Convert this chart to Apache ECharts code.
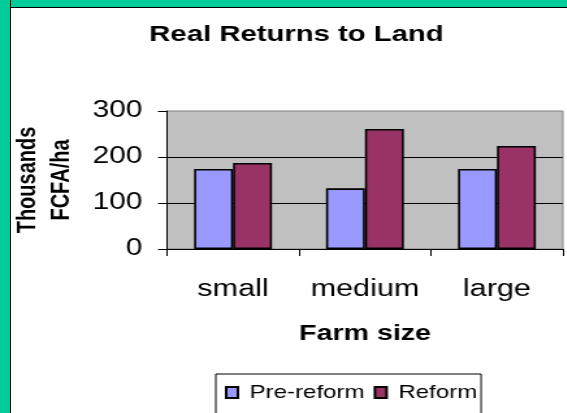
<!DOCTYPE html>
<html>
<head>
<meta charset="utf-8">
<script src="https://cdn.jsdelivr.net/npm/echarts@6/dist/echarts.min.js"></script>
<style>
    html, body { margin: 0; padding: 0; overflow: hidden; background: #fff; }
    /* green slide frame: left and top strips with a thin black edge */
    #greenLeft { position: absolute; left: 0; top: 0; width: 10px; height: 413px; background: #00CC99; border-right: 1px solid #000; }
    #greenTop { position: absolute; left: 0; top: 0; width: 567px; height: 7px; background: #00CC99; border-bottom: 1px solid #000; }
    /* the original picture is stretched sideways, so draw narrow and widen it */
    #chart { position: absolute; left: 0; top: 0; width: 436px; height: 413px;
             transform: scaleX(1.3); transform-origin: 0 0; }
</style>
</head>
<body>
<div id="greenTop"></div>
<div id="greenLeft"></div>
<div id="chart"></div>
<script>
var categories = ['small', 'medium', 'large'];
var preReform = [174, 132, 174];
var reform = [187, 261, 224];
var seriesNames = ['Pre-reform', 'Reform'];
var yMin = 0, yMax = 300, yStep = 100;

var font = 'Liberation Sans, Arial, sans-serif';

var option = {
    animation: false,
    title: {
        text: 'Real Returns to Land',
        left: 228,
        textAlign: 'center',
        top: 23,
        padding: 0,
        textStyle: { fontFamily: font, fontSize: 22.5, fontWeight: 'bold', color: '#000' }
    },
    legend: {
        data: seriesNames,
        left: 166,
        top: 374,
        padding: [9, 3, 30, 7],
        itemGap: 7,
        itemWidth: 9,
        itemHeight: 11,
        icon: 'rect',
        borderColor: '#000',
        borderWidth: 1,
        backgroundColor: '#fff',
        textStyle: { fontFamily: font, fontSize: 18.5, color: '#000', padding: [0, 0, 0, 4] }
    },
    grid: {
        left: 128.5,
        right: 3,
        top: 111,
        bottom: 164,
        outerBoundsMode: 'none',
        show: true,
        backgroundColor: '#C0C0C0',
        borderColor: '#808080',
        borderWidth: 1
    },
    xAxis: {
        type: 'category',
        data: categories,
        name: 'Farm size',
        nameLocation: 'middle',
        nameGap: 74,
        nameTextStyle: { fontFamily: font, fontSize: 22, fontWeight: 'bold', color: '#000' },
        axisLine: { lineStyle: { color: '#000', width: 1 } },
        axisTick: { show: true, alignWithLabel: false, interval: 0, length: 7, lineStyle: { color: '#000' } },
        axisLabel: { interval: 0, fontFamily: font, fontSize: 23.5, color: '#000', margin: 29 }
    },
    yAxis: {
        type: 'value',
        min: yMin,
        max: yMax,
        interval: yStep,
        name: 'Thousands\nFCFA/ha',
        nameLocation: 'middle',
        nameGap: 66,
        nameTextStyle: { fontFamily: font, fontSize: 20, fontWeight: 'bold', color: '#000', lineHeight: 26 },
        axisLine: { show: true, lineStyle: { color: '#000', width: 1 } },
        axisTick: { show: true, length: 7, lineStyle: { color: '#000' } },
        axisLabel: { fontFamily: font, fontSize: 23, color: '#000', margin: 19 },
        splitLine: { show: true, showMaxLine: false, lineStyle: { color: '#000', width: 1 } }
    },
    series: [
        {
            name: seriesNames[0],
            type: 'bar',
            data: preReform,
            barGap: '0%',
            barCategoryGap: '41%',
            itemStyle: { color: '#9999FF', borderColor: '#000', borderWidth: 1.6 }
        },
        {
            name: seriesNames[1],
            type: 'bar',
            data: reform,
            itemStyle: { color: '#993366', borderColor: '#000', borderWidth: 1.6 }
        }
    ]
};

var chart = echarts.init(document.getElementById('chart'), null, { width: 436, height: 413 });
chart.setOption(option);

window.addEventListener('resize', function () {
    chart.resize();
});
</script>
</body>
</html>
